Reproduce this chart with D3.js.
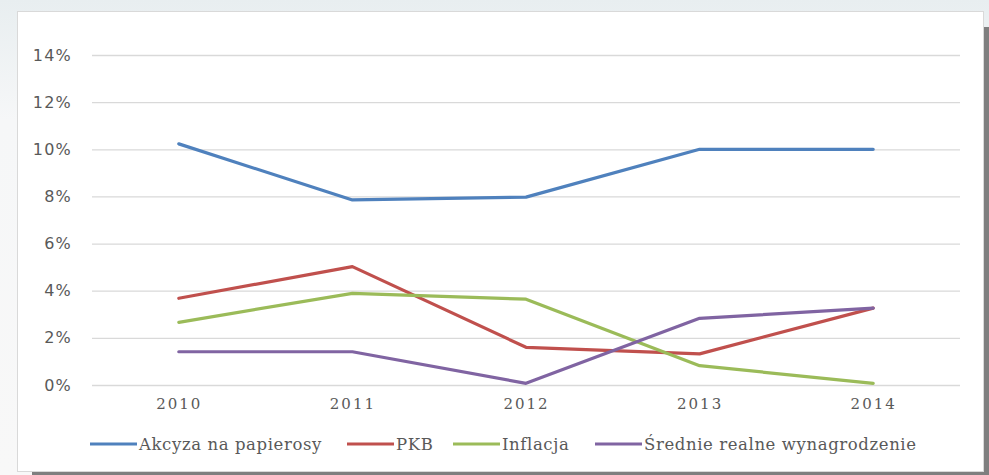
<!DOCTYPE html>
<html>

<head>
  <meta charset="UTF-8" />
  <title>Akcyza na papierosy</title>
  <style>
    body {
      margin: 0;
      width: 989px;
      height: 475px;
      overflow: hidden;
      background: linear-gradient(#e8eef0, #f6f7f8 120px, #f8f8f8);
    }

    text {
      fill: #595959;
    }
  </style>
  <script src="https://d3js.org/d3.v7.min.js"></script>
</head>

<body>
  <div id="chart"></div>
  <script>
    // data
    const years = ["2010", "2011", "2012", "2013", "2014"];
    const seriesNames = ["Akcyza na papierosy", "PKB", "Inflacja", "Średnie realne wynagrodzenie"];
    const akcyza = [10.23, 7.85, 7.97, 10.0, 10.0];
    const pkb = [3.68, 5.02, 1.6, 1.32, 3.26];
    const inflacja = [2.66, 3.89, 3.64, 0.82, 0.07];
    const wynagrodzenie = [1.41, 1.41, 0.07, 2.83, 3.26];
    const yTicks = [0, 2, 4, 6, 8, 10, 12, 14];
    const colors = ["#4f81bd", "#c0504d", "#9bbb59", "#8064a2"];

    const allSeries = [akcyza, pkb, inflacja, wynagrodzenie];

    const W = 989, H = 475;
    let plot = { left: 92, right: 960, top: 55, bottom: 385 };

    let svg = d3.select("#chart")
      .append("svg")
      .attr("width", W)
      .attr("height", H);

    /* frame with shadow */
    svg.append("rect")
      .attr("x", 32).attr("y", 27)
      .attr("width", W - 32).attr("height", H - 27)
      .attr("fill", "#7f7f7f");
    svg.append("rect")
      .attr("x", 17.5).attr("y", 11.5)
      .attr("width", 966).attr("height", 460)
      .attr("fill", "#ffffff")
      .attr("stroke", "#d9d9d9");

    let xScale = d3.scalePoint()
      .domain(years)
      .range([plot.left, plot.right])
      .padding(0.5);

    let yScale = d3.scaleLinear()
      .domain([0, 14])
      .range([plot.bottom, plot.top]);

    /* gridlines + y labels */
    let yAxis = svg.append("g")
      .attr("transform", "translate(" + plot.left + ",0)")
      .call(d3.axisLeft(yScale)
        .tickValues(yTicks)
        .tickSize(-(plot.right - plot.left))
        .tickPadding(20)
        .tickFormat(d => d + "%"));
    yAxis.select(".domain").remove();
    yAxis.selectAll(".tick line").attr("stroke", "#d9d9d9").attr("stroke-width", 1.3);
    yAxis.selectAll(".tick text")
      .attr("fill", "#595959")
      .style("font-family", "'DejaVu Sans', sans-serif")
      .style("font-size", "16px")
      .style("letter-spacing", "1.2px");

    /* x labels */
    let xAxis = svg.append("g")
      .attr("transform", "translate(0," + plot.bottom + ")")
      .call(d3.axisBottom(xScale).tickSize(0).tickPadding(13));
    xAxis.select(".domain").remove();
    xAxis.selectAll(".tick text")
      .attr("fill", "#595959")
      .style("font-family", "'DejaVu Serif', serif")
      .style("font-size", "15px")
      .style("letter-spacing", "2px");

    /* lines */
    let line = d3.line()
      .x((d, i) => xScale(years[i]))
      .y(d => yScale(d));

    svg.selectAll("path.series")
      .data(allSeries)
      .enter()
      .append("path")
      .attr("class", "series")
      .attr("d", line)
      .attr("fill", "none")
      .attr("stroke", (d, i) => colors[i])
      .attr("stroke-width", 3.2)
      .attr("stroke-linejoin", "round")
      .attr("stroke-linecap", "round");

    /* legend */
    const legendX = [90, 347, 453, 595];
    let legend = svg.selectAll("g.legend")
      .data(seriesNames)
      .enter()
      .append("g")
      .attr("class", "legend")
      .attr("transform", (d, i) => "translate(" + legendX[i] + ",444)");
    legend.append("line")
      .attr("x1", 0).attr("x2", 47)
      .attr("stroke", (d, i) => colors[i])
      .attr("stroke-width", 3.2);
    legend.append("text")
      .attr("x", 49)
      .attr("dy", "0.35em")
      .style("font-family", "'DejaVu Serif', serif")
      .style("font-size", "16.5px")
      .style("letter-spacing", "0.6px")
      .text(d => d);
  </script>
</body>

</html>
